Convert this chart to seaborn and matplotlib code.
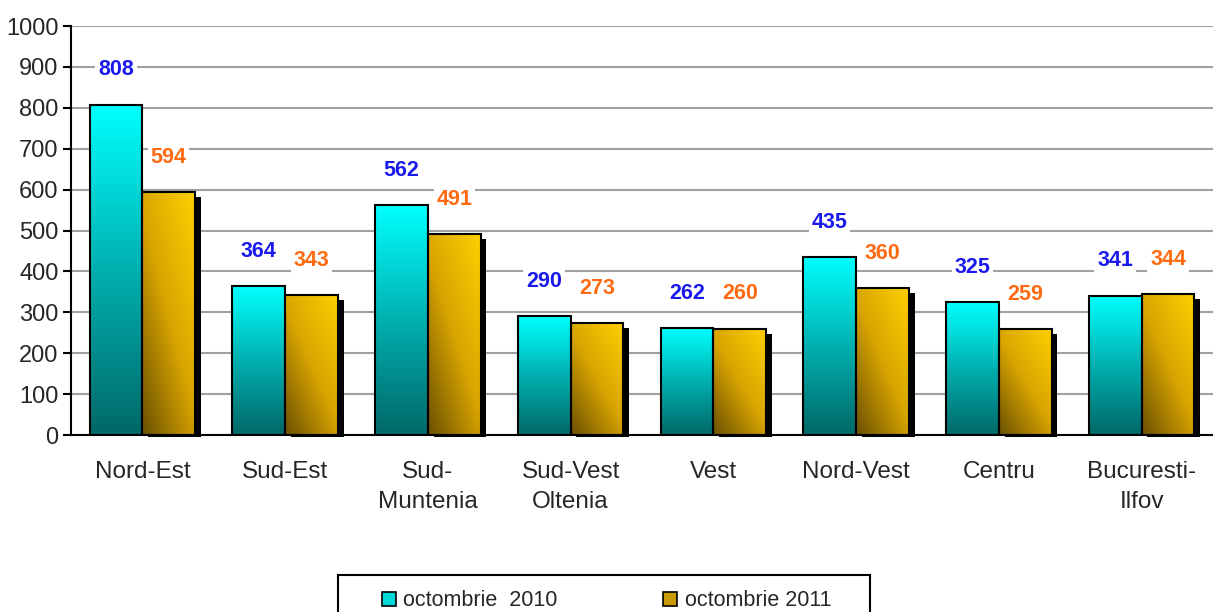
import seaborn as sns
import matplotlib.pyplot as plt
import matplotlib.patches as mpatches
from matplotlib.colors import LinearSegmentedColormap
import pandas as pd
import numpy as np

# Data
regions = ['Nord-Est', 'Sud-Est', 'Sud-\nMuntenia', 'Sud-Vest\nOltenia', 'Vest',
           'Nord-Vest', 'Centru', 'Bucuresti-\nIlfov']
oct_2010 = [808, 364, 562, 290, 262, 435, 325, 341]
oct_2011 = [594, 343, 491, 273, 260, 360, 259, 344]
series = ['octombrie  2010', 'octombrie 2011']
label_colors = ['#1a1aee', '#ff6a10']

data = pd.DataFrame({
    'Regiune': regions * 2,
    'Valoare': oct_2010 + oct_2011,
    'Perioada': [series[0]] * len(regions) + [series[1]] * len(regions),
})

sns.set_style("white")
plt.rcParams['font.family'] = ['Liberation Sans', 'DejaVu Sans']

fig = plt.figure(figsize=(12.13, 6.12), dpi=100)
ax = fig.add_axes([0.0585, 0.2892, 0.9415, 0.6683])

sns.barplot(data=data, x='Regiune', y='Valoare', hue='Perioada',
            palette=['#00e0e0', '#e0b000'], width=0.74, gap=0,
            legend=False, ax=ax, zorder=3)

cyan_cmap = LinearSegmentedColormap.from_list('cy', ['#00ffff', '#00b0b0', '#006868'])
gold_cmap = LinearSegmentedColormap.from_list('gd', ['#ffd000', '#d8a400', '#6a5000'])

for ci, cont in enumerate(ax.containers):
    for bar, val in zip(cont.patches, cont.datavalues):
        x0, y0 = bar.get_x(), bar.get_y()
        w, h = bar.get_width(), bar.get_height()
        if ci == 0:
            # bottom row dark, top row bright
            grad = np.linspace(1, 0, 256).reshape(-1, 1)
            img = ax.imshow(grad, cmap=cyan_cmap, aspect='auto', zorder=3.5,
                            extent=[x0, x0 + w, y0, y0 + h], origin='lower')
        else:
            # shadow behind the 2011 bars
            ax.add_patch(mpatches.Rectangle((x0 + 0.04, y0 - 6), w, h - 6,
                                            facecolor='black', edgecolor='none',
                                            zorder=2, clip_on=False))
            gx, gy = np.meshgrid(np.linspace(0, 1, 64), np.linspace(0, 1, 256))
            grad = 0.55 * (1 - gy) + 0.45 * (1 - gx)
            img = ax.imshow(grad, cmap=gold_cmap, aspect='auto', zorder=3.5,
                            extent=[x0, x0 + w, y0, y0 + h], origin='lower')
        img.set_clip_path(bar)
        bar.set_facecolor('none')
        bar.set_edgecolor('black')
        bar.set_linewidth(1.5)
        bar.set_zorder(4)
        ax.annotate(f'{val:.0f}', (x0 + w / 2, y0 + h), xytext=(0, 25),
                    textcoords='offset points', ha='center', va='center',
                    fontsize=15.5, fontweight='bold', color=label_colors[ci],
                    bbox=dict(facecolor='white', edgecolor='none', pad=2),
                    zorder=5)

ax.set_xlim(-0.5, 7.5)
ax.set_ylim(0, 1000)
ax.set_yticks(range(0, 1001, 100))
ax.set_xlabel('')
ax.set_ylabel('')
ax.yaxis.grid(True, color='#a0a0a0', linewidth=1.5, zorder=0)
ax.set_axisbelow(True)

for s in ['top', 'right']:
    ax.spines[s].set_visible(False)
for s in ['left', 'bottom']:
    ax.spines[s].set_color('black')
    ax.spines[s].set_linewidth(1.5)
    ax.spines[s].set_zorder(6)

ax.set_xticks(np.arange(-0.5, 8.0, 1.0), minor=True)
ax.tick_params(axis='x', which='major', length=0, pad=19, labelsize=17.5)
ax.tick_params(axis='x', which='minor', length=6, width=1.5, color='black', direction='out')
ax.tick_params(axis='y', length=6, width=1.5, color='black', direction='out',
               labelsize=17, left=True, pad=3)
for lbl in ax.get_xticklabels():
    lbl.set_linespacing(1.45)
    lbl.set_verticalalignment('top')

handles = [mpatches.Patch(facecolor='#00d8d8', edgecolor='black', linewidth=1.2),
           mpatches.Patch(facecolor='#c89a00', edgecolor='black', linewidth=1.2)]
fig.legend(handles, series, loc='center', bbox_to_anchor=(0.5, 0.018),
           ncol=2, frameon=False, fontsize=15.5,
           handlelength=0.65, handleheight=0.65, handletextpad=0.35,
           columnspacing=4.9, borderpad=0.0)
fig.patches.append(mpatches.Rectangle((338 / 1213, -0.05), 532 / 1213, 0.1105,
                                      transform=fig.transFigure, facecolor='none',
                                      edgecolor='black', linewidth=1.5, figure=fig))

plt.savefig('out.png', dpi=100)
